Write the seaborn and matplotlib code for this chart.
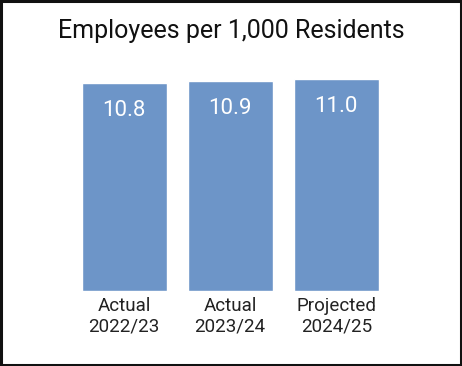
import matplotlib
matplotlib.use("Agg")
import matplotlib.pyplot as plt
import seaborn as sns
import pandas as pd
from matplotlib.patches import Rectangle

# Chart data
categories = ["Actual\n2022/23", "Actual\n2023/24", "Projected\n2024/25"]
values = [10.8, 10.9, 11.0]
value_labels = ["10.8", "10.9", "11.0"]

bar_color = "#6D95C8"

sns.set_theme(style="white")
plt.rcParams["font.family"] = ["Roboto", "DejaVu Sans"]

df = pd.DataFrame({"Category": categories, "Value": values})

fig = plt.figure(figsize=(4.62, 3.66), dpi=100)
ax = fig.add_axes([0.1537, 0.205, 0.689, 0.631])

sns.barplot(data=df, x="Category", y="Value", color=bar_color,
            saturation=1, width=0.8, ax=ax)

ax.set_ylim(0, 12)
ax.set_xlim(-0.5, 2.5)
ax.set_xlabel("")
ax.set_ylabel("")
ax.set_yticks([])
ax.tick_params(axis="x", length=0, pad=4, labelsize=13.5, labelcolor="#222222")
for s in ax.spines.values():
    s.set_visible(False)

# Value labels inside the bars
for p, lab in zip(ax.patches, value_labels):
    ax.annotate(lab, (p.get_x() + p.get_width() / 2, p.get_height()),
                xytext=(0, -27), textcoords="offset pixels",
                ha="center", va="center", fontsize=16, color="white")

# Title
fig.text(0.5, 0.916, "Employees per 1,000 Residents", ha="center", va="center",
         fontsize=18, color="#111111")

# Border around the whole figure
fig.patches.append(Rectangle((0.003, 0.004), 0.994, 0.992, transform=fig.transFigure,
                             fill=False, edgecolor="#111111", linewidth=2.2))

fig.savefig("out.png", dpi=100)
plt.close(fig)
